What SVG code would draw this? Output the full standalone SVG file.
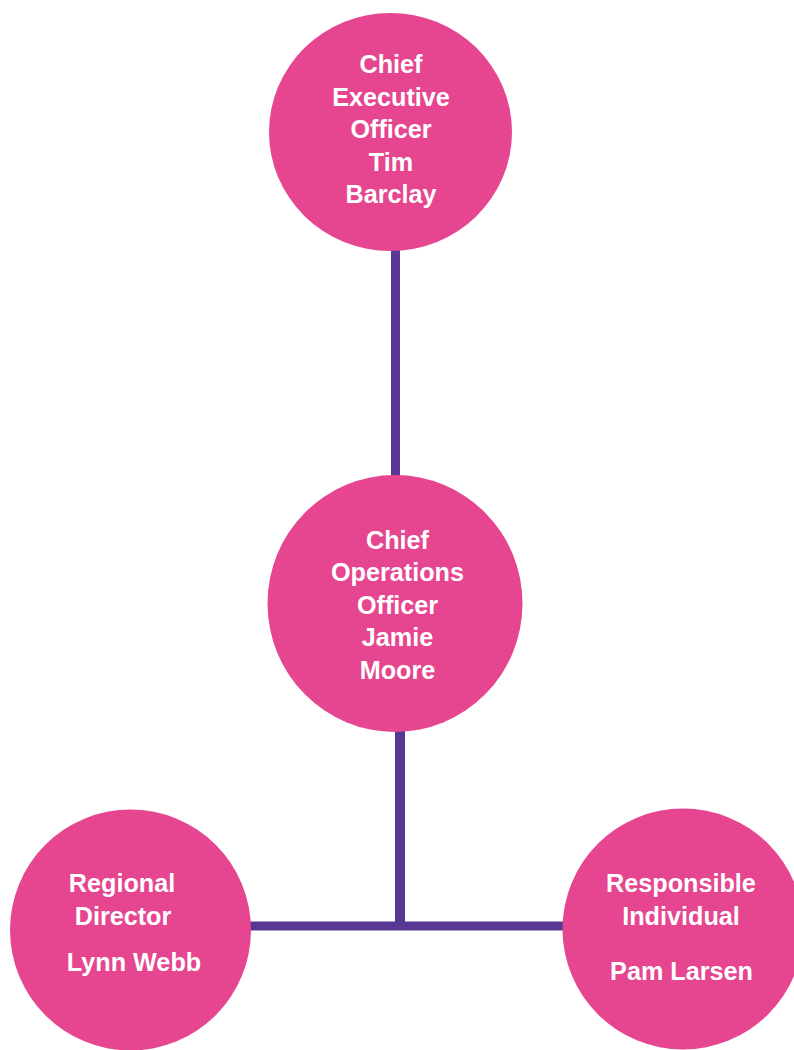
<svg xmlns="http://www.w3.org/2000/svg" width="794" height="1050" viewBox="0 0 794 1050">
<style>
.node{fill:#E5468F}
.conn{stroke:#583894;fill:none}
.t{font-family:"Liberation Sans",Arial,sans-serif;font-weight:bold;font-size:25.2px;fill:#ffffff;text-anchor:middle}
</style>
<rect width="794" height="1050" fill="#ffffff"/>
<g id="connectors">
<line class="conn" x1="395.5" y1="245" x2="395.5" y2="482" stroke-width="9"/>
<line class="conn" x1="400" y1="725" x2="400" y2="930" stroke-width="10"/>
<line class="conn" x1="245" y1="926" x2="570" y2="926" stroke-width="9"/>
</g>
<g id="ceo">
<ellipse class="node" cx="390.5" cy="132" rx="121.5" ry="119"/>
<text class="t" x="391" y="73">Chief</text>
<text class="t" x="391" y="105.5">Executive</text>
<text class="t" x="391" y="138">Officer</text>
<text class="t" x="391" y="170.5">Tim</text>
<text class="t" x="391" y="203">Barclay</text>
</g>
<g id="coo">
<ellipse class="node" cx="395" cy="603.5" rx="127.5" ry="128.5"/>
<text class="t" x="397.5" y="548.5">Chief</text>
<text class="t" x="397.5" y="581">Operations</text>
<text class="t" x="397.5" y="613.5">Officer</text>
<text class="t" x="397.5" y="646">Jamie</text>
<text class="t" x="397.5" y="678.5">Moore</text>
</g>
<g id="regional-director">
<circle class="node" cx="130.5" cy="930" r="120.5"/>
<text class="t" x="122" y="892">Regional</text>
<text class="t" x="123" y="925">Director</text>
<text class="t" x="134" y="971">Lynn Webb</text>
</g>
<g id="responsible-individual">
<circle class="node" cx="683" cy="929" r="120.5"/>
<text class="t" x="681" y="892">Responsible</text>
<text class="t" x="681" y="925">Individual</text>
<text class="t" x="681.5" y="980">Pam Larsen</text>
</g>
</svg>
